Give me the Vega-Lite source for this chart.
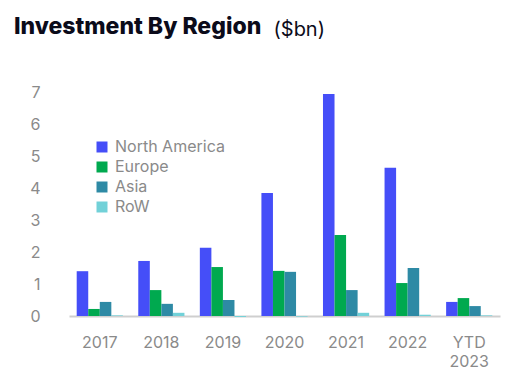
{
  "$schema": "https://vega.github.io/schema/vega-lite/v6.json",
  "width": 431,
  "height": 224,
  "autosize": {"type": "none"},
  "padding": {"left": 69, "top": 92, "right": 17, "bottom": 66},
  "background": "white",
  "title": {
    "text": "Investment By Region",
    "anchor": "start",
    "frame": "group",
    "font": "Inter",
    "fontSize": 23,
    "fontWeight": 800,
    "color": "#0b0b1a",
    "baseline": "alphabetic",
    "dx": -55,
    "dy": 38,
    "offset": 0
  },
  "config": {
    "view": {"stroke": null},
    "font": "Inter"
  },
  "data": {
    "values": [
      {"year": "2017", "region": "North America", "value": 1.4},
      {"year": "2017", "region": "Europe", "value": 0.22},
      {"year": "2017", "region": "Asia", "value": 0.44},
      {"year": "2017", "region": "RoW", "value": 0.02},
      {"year": "2018", "region": "North America", "value": 1.72},
      {"year": "2018", "region": "Europe", "value": 0.81},
      {"year": "2018", "region": "Asia", "value": 0.38},
      {"year": "2018", "region": "RoW", "value": 0.1},
      {"year": "2019", "region": "North America", "value": 2.13},
      {"year": "2019", "region": "Europe", "value": 1.53},
      {"year": "2019", "region": "Asia", "value": 0.5},
      {"year": "2019", "region": "RoW", "value": -0.03},
      {"year": "2020", "region": "North America", "value": 3.84},
      {"year": "2020", "region": "Europe", "value": 1.41},
      {"year": "2020", "region": "Asia", "value": 1.38},
      {"year": "2020", "region": "RoW", "value": -0.02},
      {"year": "2021", "region": "North America", "value": 6.94},
      {"year": "2021", "region": "Europe", "value": 2.53},
      {"year": "2021", "region": "Asia", "value": 0.81},
      {"year": "2021", "region": "RoW", "value": 0.1},
      {"year": "2022", "region": "North America", "value": 4.63},
      {"year": "2022", "region": "Europe", "value": 1.03},
      {"year": "2022", "region": "Asia", "value": 1.5},
      {"year": "2022", "region": "RoW", "value": 0.04},
      {"year": "YTD 2023", "region": "North America", "value": 0.44},
      {"year": "YTD 2023", "region": "Europe", "value": 0.56},
      {"year": "YTD 2023", "region": "Asia", "value": 0.31},
      {"year": "YTD 2023", "region": "RoW", "value": 0.02}
    ]
  },
  "mark": {"type": "bar"},
  "encoding": {
    "x": {
      "field": "year",
      "type": "nominal",
      "sort": null,
      "scale": {"paddingInner": 0.25, "paddingOuter": 0.125},
      "axis": {
        "title": null,
        "labelAngle": 0,
        "ticks": false,
        "tickSize": 0,
        "domainColor": "#cfcfcf",
        "domainWidth": 2,
        "labelColor": "#8a8a8a",
        "labelFontSize": 16,
        "labelPadding": 18,
        "labelBaseline": "top",
        "labelLineHeight": 19,
        "labelExpr": "datum.value == 'YTD 2023' ? ['YTD', '2023'] : datum.value"
      }
    },
    "xOffset": {
      "field": "region",
      "type": "nominal",
      "sort": ["North America", "Europe", "Asia", "RoW"],
      "scale": {"paddingInner": 0, "paddingOuter": 0}
    },
    "y": {
      "field": "value",
      "type": "quantitative",
      "scale": {"domain": [0, 7], "nice": false, "zero": true},
      "axis": {
        "title": "($bn)",
        "titleAngle": 0,
        "titleX": 204,
        "titleY": -57,
        "titleAlign": "left",
        "titleBaseline": "alphabetic",
        "titleFont": "Inter",
        "titleFontSize": 20,
        "titleFontWeight": 400,
        "titleColor": "#0b0b1a",
        "grid": false,
        "domain": false,
        "ticks": false,
        "tickSize": 0,
        "values": [0, 1, 2, 3, 4, 5, 6, 7],
        "labelColor": "#8a8a8a",
        "labelFontSize": 16,
        "labelPadding": 29,
        "labelDy": -4
      }
    },
    "color": {
      "field": "region",
      "type": "nominal",
      "sort": ["North America", "Europe", "Asia", "RoW"],
      "scale": {
        "domain": ["North America", "Europe", "Asia", "RoW"],
        "range": ["#454ef8", "#00a94f", "#2e8aa5", "#72d1d8"]
      },
      "legend": {
        "title": null,
        "orient": "none",
        "legendX": 25,
        "legendY": 47,
        "symbolType": "square",
        "symbolSize": 121,
        "symbolStrokeWidth": 0,
        "symbolOpacity": 1,
        "labelFontSize": 16,
        "labelColor": "#8a8a8a",
        "labelOffset": 5,
        "rowPadding": 4
      }
    }
  }
}
